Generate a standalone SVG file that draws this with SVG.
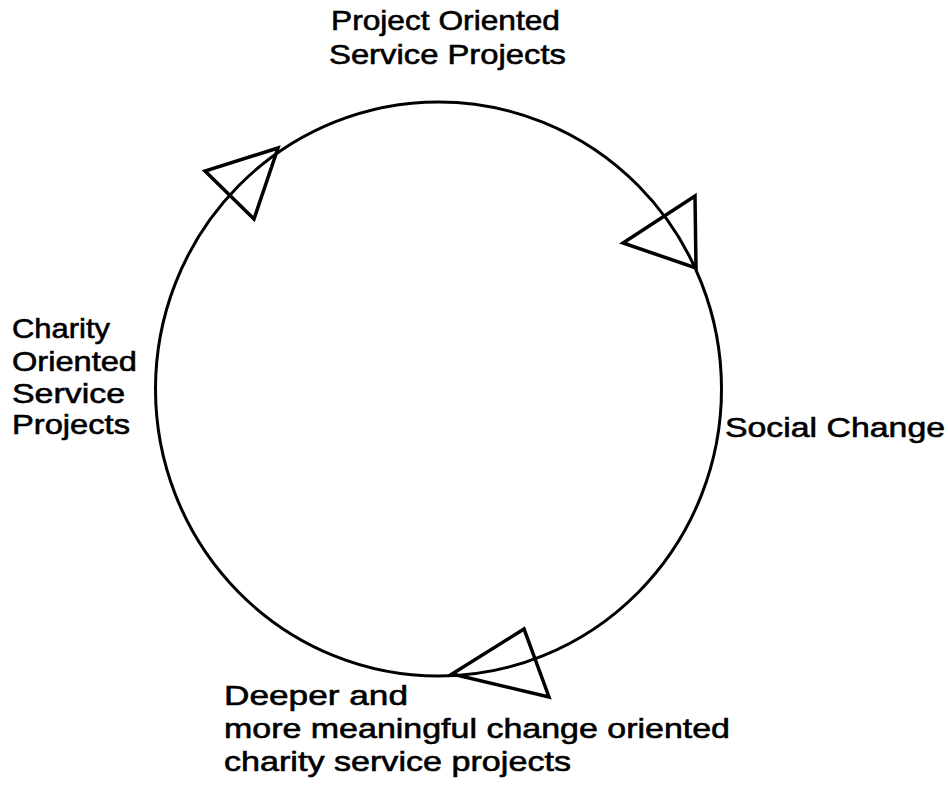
<svg xmlns="http://www.w3.org/2000/svg" width="948" height="788" viewBox="0 0 948 788">
  <style>
    .label { font-family: "Liberation Sans", Arial, sans-serif; font-size: 28px; fill: #000; stroke: #000; stroke-width: 0.6; }
    .ring { fill: none; stroke: #000; stroke-width: 3; }
    .head { fill: none; stroke: #000; stroke-width: 3.5; stroke-linejoin: miter; }
  </style>
  <rect width="948" height="788" fill="#fff"/>

  <!-- cycle with open triangular arrowheads -->
  <g id="connectors">
    <ellipse class="ring" cx="438.5" cy="389" rx="283" ry="287"/>
    <polygon class="head" points="278,148 205,171 254,219"/>
    <polygon class="head" points="695,196 623,243 696,268"/>
    <polygon class="head" points="524,629 452,674 549,697"/>
  </g>

  <g id="project-oriented">
    <text class="label" x="331" y="30" textLength="229" lengthAdjust="spacingAndGlyphs">Project Oriented</text>
    <text class="label" x="329" y="64" textLength="237" lengthAdjust="spacingAndGlyphs">Service Projects</text>
  </g>

  <g id="social-change">
    <text class="label" x="725" y="437" textLength="220" lengthAdjust="spacingAndGlyphs">Social Change</text>
  </g>

  <g id="deeper-change">
    <text class="label" x="224" y="705" textLength="184" lengthAdjust="spacingAndGlyphs">Deeper and</text>
    <text class="label" x="224" y="738" textLength="506" lengthAdjust="spacingAndGlyphs">more meaningful change oriented</text>
    <text class="label" x="224" y="771" textLength="347" lengthAdjust="spacingAndGlyphs">charity service projects</text>
  </g>

  <g id="charity-oriented">
    <text class="label" x="12" y="338" textLength="98" lengthAdjust="spacingAndGlyphs">Charity</text>
    <text class="label" x="12" y="370.5" textLength="125" lengthAdjust="spacingAndGlyphs">Oriented</text>
    <text class="label" x="12" y="403" textLength="113" lengthAdjust="spacingAndGlyphs">Service</text>
    <text class="label" x="12" y="434" textLength="118" lengthAdjust="spacingAndGlyphs">Projects</text>
  </g>
</svg>
